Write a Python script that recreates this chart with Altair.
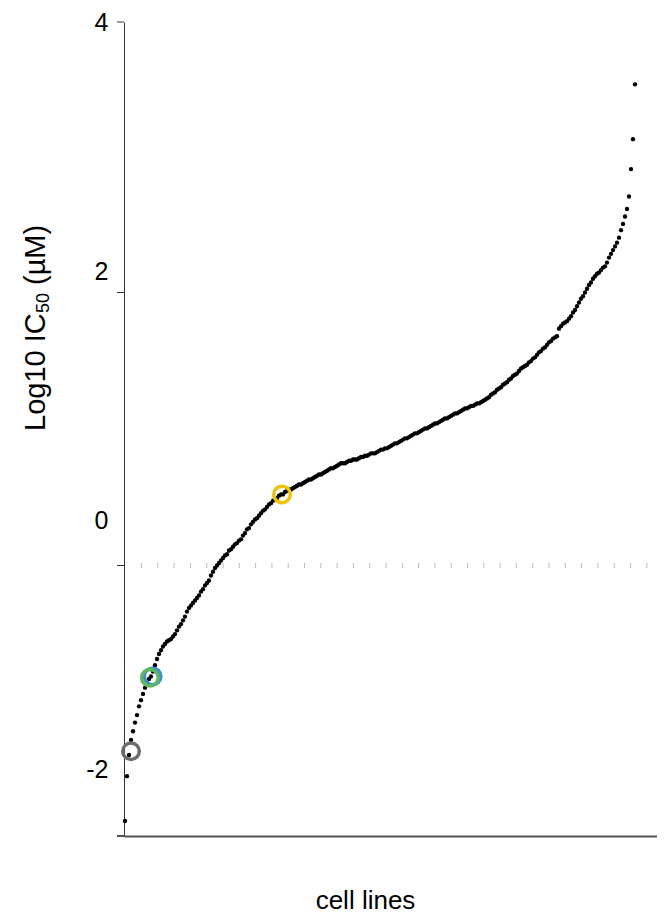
import altair as alt
import pandas as pd

# sorted log10 IC50 values (one per cell line, by rank)
log_ic50 = [
    -2.41, -2.05, -1.88, -1.76, -1.69, -1.62, -1.56, -1.49, -1.44, -1.39,
    -1.34, -1.30, -1.27, -1.25, -1.21, -1.16, -1.11, -1.07, -1.04, -1.01,
    -0.99, -0.97, -0.96, -0.95, -0.93, -0.91, -0.88, -0.85, -0.83, -0.80,
    -0.77, -0.73, -0.70, -0.68, -0.66, -0.64, -0.62, -0.60, -0.57, -0.55,
    -0.52, -0.50, -0.48, -0.44, -0.41, -0.38, -0.36, -0.34, -0.32, -0.30,
    -0.28, -0.27, -0.24, -0.23, -0.21, -0.19, -0.18, -0.16, -0.15, -0.12,
    -0.10, -0.07, -0.06, -0.03, -0.01, 0.01, 0.02, 0.04, 0.06, 0.08,
    0.09, 0.11, 0.13, 0.14, 0.16, 0.17, 0.18, 0.20, 0.21, 0.21,
    0.23, 0.24, 0.25, 0.25, 0.26, 0.27, 0.28, 0.29, 0.29, 0.30,
    0.31, 0.32, 0.33, 0.33, 0.34, 0.35, 0.36, 0.37, 0.37, 0.38,
    0.39, 0.40, 0.41, 0.42, 0.42, 0.43, 0.44, 0.45, 0.46, 0.46,
    0.46, 0.47, 0.48, 0.48, 0.49, 0.49, 0.49, 0.50, 0.51, 0.51,
    0.52, 0.52, 0.53, 0.54, 0.54, 0.54, 0.55, 0.56, 0.57, 0.57,
    0.58, 0.58, 0.59, 0.60, 0.61, 0.62, 0.62, 0.63, 0.64, 0.65,
    0.66, 0.66, 0.67, 0.68, 0.69, 0.70, 0.70, 0.71, 0.72, 0.73,
    0.74, 0.74, 0.75, 0.76, 0.77, 0.78, 0.78, 0.79, 0.80, 0.81,
    0.82, 0.82, 0.83, 0.84, 0.85, 0.86, 0.86, 0.87, 0.88, 0.89,
    0.90, 0.90, 0.91, 0.92, 0.92, 0.93, 0.94, 0.94, 0.95, 0.96,
    0.97, 0.98, 0.99, 1.01, 1.02, 1.03, 1.05, 1.06, 1.07, 1.09,
    1.10, 1.11, 1.13, 1.14, 1.16, 1.17, 1.18, 1.20, 1.22, 1.23,
    1.24, 1.25, 1.27, 1.28, 1.30, 1.31, 1.33, 1.35, 1.36, 1.38,
    1.39, 1.41, 1.43, 1.44, 1.46, 1.47, 1.48, 1.54, 1.56, 1.58,
    1.59, 1.60, 1.62, 1.64, 1.67, 1.69, 1.72, 1.75, 1.78, 1.80,
    1.83, 1.86, 1.89, 1.91, 1.94, 1.96, 1.98, 1.99, 2.01, 2.03,
    2.04, 2.07, 2.11, 2.14, 2.17, 2.20, 2.23, 2.27, 2.33, 2.38,
    2.44, 2.50, 2.60, 2.82, 3.06, 3.50,
]
ranks = list(range(len(log_ic50)))

# highlighted cell lines
hl_rank = [3, 13.8, 12.5, 78.5]
hl_value = [-1.85, -1.25, -1.26, 0.21]
hl_color = ["#6b6b6b", "#3b8fd9", "#5cb85c", "#f2c200"]

y_label_values = [4, 2, 0, -2]
y_tick_values = [4, 1.83, -0.36]
x_axis_value = [-2.53]
threshold = [-0.36]

# y-axis title pieces: main text, subscript, unit
title_parts = ["Log10 IC", "50", "(\u00b5M)"]

W, H = 533, 814
FONT = "Liberation Sans"
xs = alt.Scale(domain=[-0.5, 266], nice=False, zero=False)
ys = alt.Scale(domain=[-2.53, 4], nice=False, zero=False)

df = pd.DataFrame({"rank": ranks, "value": log_ic50})
hl = pd.DataFrame({"rank": hl_rank, "value": hl_value, "color": hl_color,
                   "order": list(range(len(hl_rank)))})

axis_y = alt.Axis(
    values=y_label_values, ticks=False, tickSize=0, grid=False,
    domainColor="#333333", domainWidth=1,
    labelFont=FONT, labelFontSize=25, labelColor="#000000",
    labelPadding=16, labelFlush=False, labelExpr="'' + datum.value",
    title="",
)
axis_x = alt.Axis(
    labels=False, ticks=False, grid=False,
    domainColor="#555555", domainWidth=2,
    title="cell lines", titleFont=FONT, titleFontSize=26,
    titleFontWeight="normal", titleColor="#000000",
    titleAlign="center", titleBaseline="alphabetic", titleX=241, titleY=72,
)

dots = alt.Chart(df).mark_circle(size=19, color="#000000", opacity=1).encode(
    x=alt.X("rank:Q", scale=xs, axis=axis_x),
    y=alt.Y("value:Q", scale=ys, axis=axis_y),
)

thr = alt.Chart(pd.DataFrame({"value": threshold})).mark_rule(
    color="#bbbbbb", strokeWidth=5, strokeDash=[1, 15.3]
).encode(y=alt.Y("value:Q", scale=ys, axis=axis_y), x=alt.value(17), x2=alt.value(W))

rings = alt.Chart(hl).mark_point(
    shape="circle", filled=False, size=275, strokeWidth=3.5, opacity=1
).encode(
    x=alt.X("rank:Q", scale=xs, axis=axis_x),
    y=alt.Y("value:Q", scale=ys, axis=axis_y),
    color=alt.Color("color:N", scale=None, legend=None),
    order="order:Q",
)

yticks = alt.Chart(pd.DataFrame({"value": y_tick_values})).mark_rule(
    color="#333333", strokeWidth=1
).encode(y=alt.Y("value:Q", scale=ys, axis=axis_y), x=alt.value(-7), x2=alt.value(0))

xext = alt.Chart(pd.DataFrame({"value": x_axis_value})).mark_rule(
    color="#555555", strokeWidth=2
).encode(y=alt.Y("value:Q", scale=ys, axis=axis_y), x=alt.value(-7), x2=alt.value(0))

# rotated y title built from pieces (main / subscript / unit)
t_main = alt.Chart(pd.DataFrame({"t": [title_parts[0]]})).mark_text(
    font=FONT, fontSize=29, angle=270, align="left", baseline="alphabetic",
    color="#000000"
).encode(text="t:N", x=alt.value(-79), y=alt.value(409))
t_sub = alt.Chart(pd.DataFrame({"t": [title_parts[1]]})).mark_text(
    font=FONT, fontSize=18, angle=270, align="left", baseline="alphabetic",
    color="#000000"
).encode(text="t:N", x=alt.value(-75), y=alt.value(291))
t_unit = alt.Chart(pd.DataFrame({"t": [title_parts[2]]})).mark_text(
    font=FONT, fontSize=29, angle=270, align="left", baseline="alphabetic",
    color="#000000"
).encode(text="t:N", x=alt.value(-79), y=alt.value(263))

chart = alt.layer(thr, dots, rings, yticks, xext, t_main, t_sub, t_unit).properties(
    width=W, height=H,
    autosize=alt.AutoSizeParams(type="none"),
    padding={"left": 116, "top": 14, "right": 0, "bottom": 78},
    background="#ffffff",
).configure_axis(grid=False).configure_view(strokeWidth=0, stroke="transparent")

chart.save("out.html", embed_options={"renderer": "svg", "actions": False})
